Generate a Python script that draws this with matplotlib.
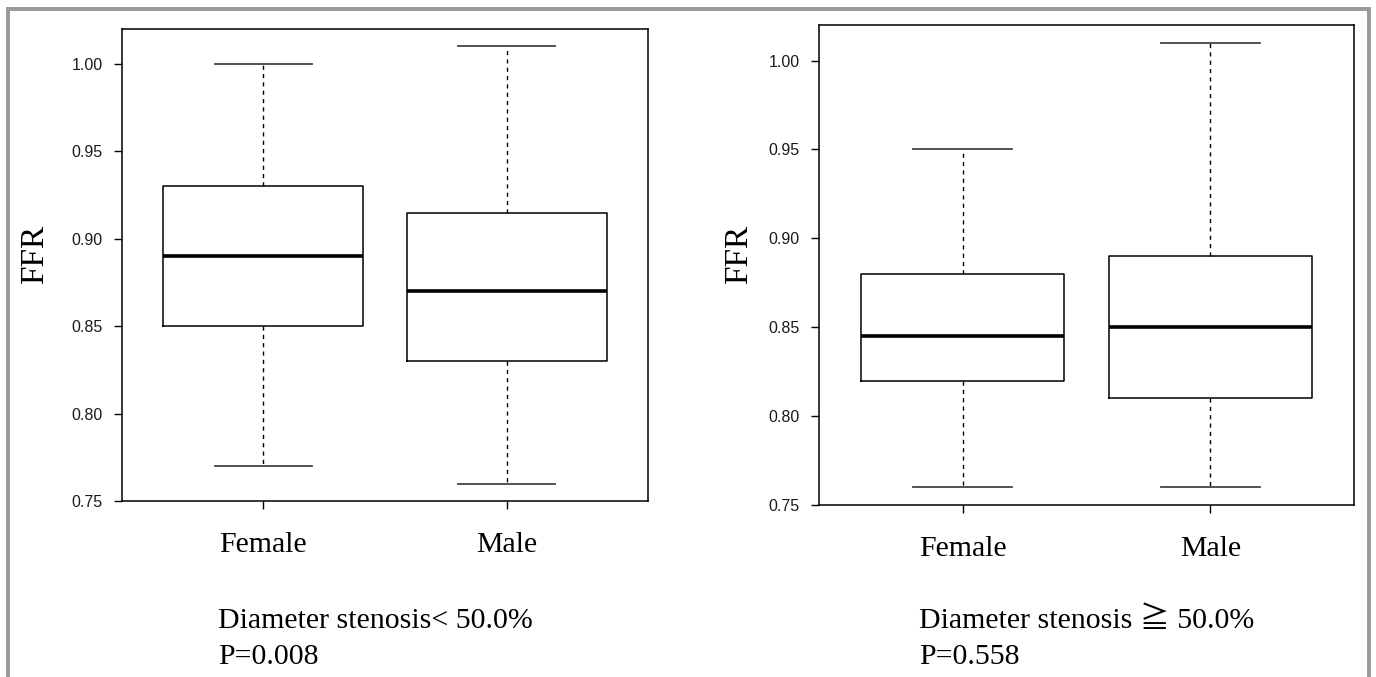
import matplotlib
matplotlib.use('Agg')
from matplotlib import pyplot as plt
from matplotlib.patches import Rectangle

groups = ['Female', 'Male']

# left panel: diameter stenosis < 50%
low_whislo = [0.77, 0.76]
low_q1 = [0.85, 0.83]
low_med = [0.89, 0.87]
low_q3 = [0.93, 0.915]
low_whishi = [1.00, 1.01]

# right panel: diameter stenosis >= 50%
high_whislo = [0.76, 0.76]
high_q1 = [0.82, 0.81]
high_med = [0.845, 0.85]
high_q3 = [0.88, 0.89]
high_whishi = [0.95, 1.01]

yticks = [0.75, 0.80, 0.85, 0.90, 0.95, 1.00]
captions = [['Diameter stenosis< 50.0%', 'P=0.008'],
            ['Diameter stenosis \u2267 50.0%', 'P=0.558']]

serif = ['Liberation Serif', 'Noto Sans CJK JP', 'DejaVu Serif']

fig = plt.figure(figsize=(13.76, 6.77), dpi=100)

def make_stats(lo, q1, med, q3, hi):
    out = []
    for i in range(len(groups)):
        out.append({'whislo': lo[i], 'q1': q1[i], 'med': med[i], 'q3': q3[i],
                    'whishi': hi[i], 'fliers': [], 'label': groups[i]})
    return out

panels = [
    ([122/1376, 1-501/677, 526/1376, 472/677],
     make_stats(low_whislo, low_q1, low_med, low_q3, low_whishi), 35, 218),
    ([819/1376, 1-505/677, 535/1376, 480/677],
     make_stats(high_whislo, high_q1, high_med, high_q3, high_whishi), 739, 919),
]

for k, (rect, stats, ylab_x, cap_x) in enumerate(panels):
    ax = fig.add_axes(rect)
    ax.bxp(stats, positions=[1, 2], widths=0.82, capwidths=0.4, showfliers=False,
           boxprops=dict(color='black', linewidth=1.1),
           whiskerprops=dict(color='black', linewidth=1, linestyle=(0, (3, 3))),
           capprops=dict(color='#444444', linewidth=1.3),
           medianprops=dict(color='black', linewidth=2.6))
    ax.set_xlim(0.42, 2.58)
    ax.set_ylim(0.75, 1.02)
    ax.set_yticks(yticks)
    ax.set_yticklabels(['%.2f' % v for v in yticks], family='Liberation Sans',
                       fontsize=11.5, color='#1a1a1a')
    ax.set_xticks([1, 2])
    ax.set_xticklabels(groups, family=serif, fontsize=21.5)
    ax.tick_params(axis='y', length=6, width=1, pad=8, direction='out')
    ax.tick_params(axis='x', length=6, width=1, pad=16, direction='out')
    for s in ax.spines.values():
        s.set_linewidth(1.1)
        s.set_color('black')
    fig.text(ylab_x/1376, 1-254/677, 'FFR', rotation=90, ha='center', va='center',
             family=serif, fontsize=24)
    fig.text(cap_x/1376, 1-628/677, captions[k][0], ha='left', va='baseline',
             family=serif, fontsize=21.5)
    fig.text(cap_x/1376, 1-664/677, captions[k][1], ha='left', va='baseline',
             family=serif, fontsize=21.5)

# gray outer frame (bottom edge runs off the image)
frame = Rectangle((7.5/1376, -0.1), (1369-7.5)/1376, 1.1-9/677, fill=False,
                  edgecolor='#999999', linewidth=2.8, transform=fig.transFigure,
                  clip_on=False)
fig.add_artist(frame)

fig.savefig('out.png', dpi=100)
